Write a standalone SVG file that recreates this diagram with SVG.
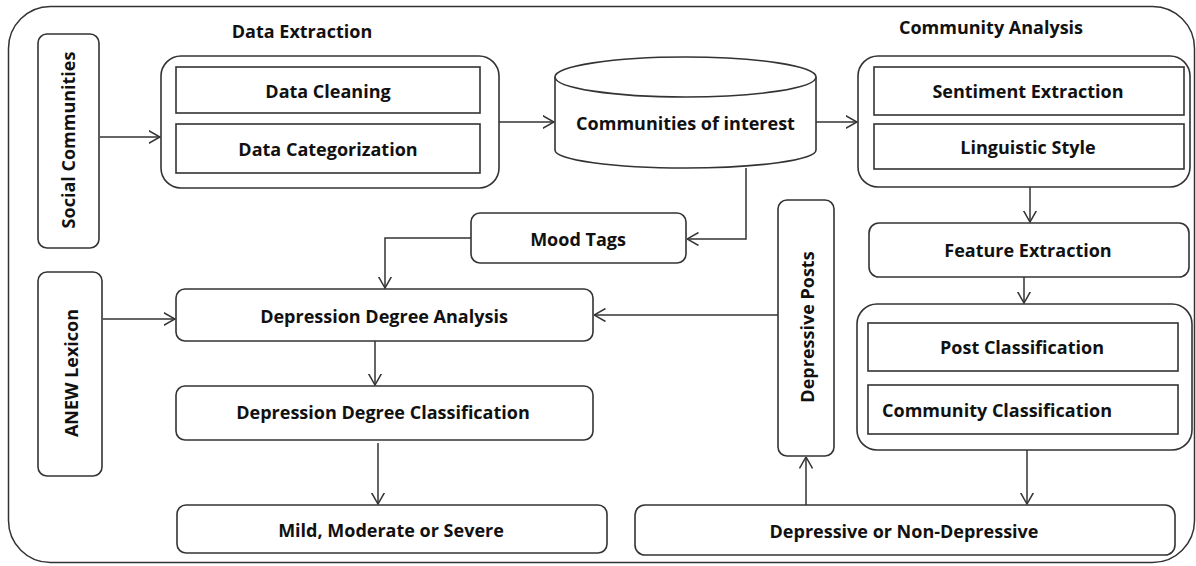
<svg xmlns="http://www.w3.org/2000/svg" width="1196" height="566" viewBox="0 0 1196 566">
<style>
.box{fill:#fff;stroke:#333;stroke-width:1.6}
.frame{fill:none;stroke:#333;stroke-width:1.5}
.t{font-family:"Open Sans","Liberation Sans",sans-serif;font-weight:bold;font-size:18px;fill:#111;text-anchor:middle;dominant-baseline:central}
.c{fill:none;stroke:#333;stroke-width:1.5;marker-end:url(#arr)}
</style>
<defs>
<marker id="arr" viewBox="0 0 12 14" refX="11.5" refY="7" markerWidth="12" markerHeight="14" markerUnits="userSpaceOnUse" orient="auto">
<path d="M0,0.5 L11.5,7 L0,13.5" fill="none" stroke="#333" stroke-width="1.5"/>
</marker>
</defs>
<rect width="1196" height="566" fill="#fff"/>
<rect id="frame" class="frame" x="8.5" y="6.5" width="1186" height="556" rx="42"/>
<text class="t" x="302" y="31">Data Extraction</text>
<text class="t" x="991" y="27">Community Analysis</text>

<g id="connectors">
<path class="c" d="M100,137 L160,137"/>
<path class="c" d="M499,122 L554,122"/>
<path class="c" d="M816,122 L857,122"/>
<path class="c" d="M746,168 L746,239 L687,239"/>
<path class="c" d="M471,238 L385,238 L385,288"/>
<path class="c" d="M103,319 L175,319"/>
<path class="c" d="M778,315 L594,315"/>
<path class="c" d="M375,341 L375,385"/>
<path class="c" d="M378,443 L378,504"/>
<path class="c" d="M1030,187 L1030,222"/>
<path class="c" d="M1024,277 L1024,303"/>
<path class="c" d="M1027,450 L1027,504"/>
<path class="c" d="M806,505 L806,457"/>
</g>

<g id="social">
<rect class="box" x="38" y="34" width="61" height="214" rx="9"/>
<text class="t" transform="translate(68,140) rotate(-90)">Social Communities</text>
</g>
<g id="data-extraction">
<rect class="box" x="161" y="56" width="338" height="132" rx="20"/>
<g id="data-cleaning">
<rect class="box" x="176" y="67" width="304" height="46"/>
<text class="t" x="328" y="91">Data Cleaning</text>
</g>
<g id="data-categorization">
<rect class="box" x="176" y="124" width="304" height="49"/>
<text class="t" x="328" y="149">Data Categorization</text>
</g>
</g>
<g id="communities-of-interest">
<path class="box" d="M555,77 L555,150 A130.5,18 0 0 0 816,150 L816,77"/>
<ellipse class="box" cx="685.5" cy="77" rx="130.5" ry="20"/>
<text class="t" x="685.5" y="123">Communities of interest</text>
</g>
<g id="community-analysis">
<rect class="box" x="858" y="56" width="332" height="131" rx="20"/>
<g id="sentiment">
<rect class="box" x="874" y="67" width="310" height="48"/>
<text class="t" x="1028" y="91">Sentiment Extraction</text>
</g>
<g id="linguistic">
<rect class="box" x="874" y="124" width="310" height="45"/>
<text class="t" x="1028" y="147">Linguistic Style</text>
</g>
</g>
<g id="feature-extraction">
<rect class="box" x="869" y="223" width="320" height="54" rx="10"/>
<text class="t" x="1028" y="250">Feature Extraction</text>
</g>
<g id="classification">
<rect class="box" x="857" y="304" width="335" height="146" rx="20"/>
<g id="post-classification">
<rect class="box" x="868" y="323" width="310" height="48"/>
<text class="t" x="1022" y="347">Post Classification</text>
</g>
<g id="community-classification">
<rect class="box" x="868" y="385" width="310" height="49"/>
<text class="t" x="997" y="410">Community Classification</text>
</g>
</g>
<g id="mood-tags">
<rect class="box" x="471" y="213" width="215" height="50" rx="9"/>
<text class="t" x="578" y="239">Mood Tags</text>
</g>
<g id="depressive-posts">
<rect class="box" x="778" y="200" width="56" height="256" rx="9"/>
<text class="t" transform="translate(807,327) rotate(-90)">Depressive Posts</text>
</g>
<g id="anew">
<rect class="box" x="38" y="272" width="64" height="204" rx="9"/>
<text class="t" transform="translate(71,373) rotate(-90)">ANEW Lexicon</text>
</g>
<g id="dda">
<rect class="box" x="176" y="289" width="417" height="52" rx="9"/>
<text class="t" x="384" y="316">Depression Degree Analysis</text>
</g>
<g id="ddc">
<rect class="box" x="176" y="386" width="417" height="54" rx="9"/>
<text class="t" x="383" y="412">Depression Degree Classification</text>
</g>
<g id="mms">
<rect class="box" x="177" y="505" width="430" height="48" rx="9"/>
<text class="t" x="391" y="530">Mild, Moderate or Severe</text>
</g>
<g id="dond">
<rect class="box" x="635" y="505" width="540" height="50" rx="10"/>
<text class="t" x="904" y="531">Depressive or Non-Depressive</text>
</g>
</svg>
